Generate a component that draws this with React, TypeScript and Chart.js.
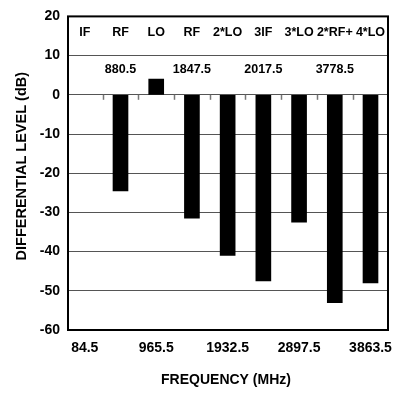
import React, { useEffect, useRef } from "react";
import { Chart, registerables } from "chart.js";

Chart.register(...registerables);

const categories = ["IF", "RF", "LO", "RF", "2*LO", "3IF", "3*LO", "2*RF+", "4*LO"];
const levels: (number | null)[] = [null, -24.5, 4, -31.5, -41, -47.5, -32.5, -53, -48];
const subLabels: (string | null)[] = [null, "880.5", null, "1847.5", null, "2017.5", null, "3778.5", null];
const freqTicks = [0, 2, 4, 6, 8];
const freqLabels = ["84.5", "965.5", "1932.5", "2897.5", "3863.5"];
const yTitle = "DIFFERENTIAL LEVEL (dB)";
const xTitle = "FREQUENCY (MHz)";

const FONT = "'Liberation Sans', Arial, sans-serif";

const annotate = {
  id: "annotate",
  afterDatasetsDraw(chart: any) {
    const { ctx, chartArea, scales } = chart;
    const xs = scales.x;
    const ys = scales.y;
    const y0 = ys.getPixelForValue(0);
    ctx.save();
    // small ticks on zero line between categories
    ctx.strokeStyle = "#777";
    ctx.lineWidth = 1.5;
    for (let k = 0; k < categories.length - 1; k++) {
      const px = Math.round(xs.getPixelForValue(k + 0.5)) + 0.5;
      ctx.beginPath();
      ctx.moveTo(px, y0);
      ctx.lineTo(px, y0 + 5);
      ctx.stroke();
    }
    // category labels
    ctx.fillStyle = "#000";
    ctx.textAlign = "center";
    ctx.textBaseline = "alphabetic";
    ctx.font = `bold 12.5px ${FONT}`;
    categories.forEach((c, k) => {
      ctx.fillText(c, xs.getPixelForValue(k), ys.getPixelForValue(15.1));
    });
    subLabels.forEach((s, k) => {
      if (s) ctx.fillText(s, xs.getPixelForValue(k), ys.getPixelForValue(5.6));
    });
    // plot border
    ctx.strokeStyle = "#000";
    ctx.lineWidth = 2;
    ctx.strokeRect(chartArea.left, chartArea.top, chartArea.right - chartArea.left, chartArea.bottom - chartArea.top);
    // axis titles
    ctx.font = `bold 14.5px ${FONT}`;
    ctx.textBaseline = "middle";
    ctx.save();
    ctx.translate(22, (chartArea.top + chartArea.bottom) / 2 - 7);
    ctx.rotate(-Math.PI / 2);
    ctx.fillText(yTitle, 0, 0);
    ctx.restore();
    ctx.font = `bold 14px ${FONT}`;
    ctx.textBaseline = "alphabetic";
    ctx.fillText(xTitle, (chartArea.left + chartArea.right) / 2 - 2, 383.5);
    ctx.restore();
  },
};

export default function App() {
  const ref = useRef<HTMLCanvasElement>(null);
  useEffect(() => {
    document.body.style.margin = "0";
    const data = levels
      .map((v, k) => (v === null ? null : { x: k, y: v }))
      .filter((d) => d !== null);
    const chart = new Chart(ref.current as HTMLCanvasElement, {
      type: "bar",
      data: {
        datasets: [
          {
            data: data as any,
            backgroundColor: "#000",
            borderWidth: 0,
            barThickness: 15,
          },
        ],
      },
      options: {
        responsive: false,
        animation: false,
        devicePixelRatio: 1,
        layout: { padding: { left: 0, right: 16, top: 11, bottom: 0 } },
        plugins: { legend: { display: false }, tooltip: { enabled: false } },
        scales: {
          x: {
            type: "linear",
            offset: false,
            min: -0.47,
            max: 8.49,
            grid: { display: false, drawTicks: false, offset: false },
            border: { display: false },
            afterBuildTicks: (scale: any) => {
              scale.ticks = freqTicks.map((v) => ({ value: v }));
            },
            ticks: {
              autoSkip: false,
              maxRotation: 0,
              padding: 10,
              color: "#000",
              font: { family: FONT, size: 14, weight: "bold" },
              callback: (v: any) => freqLabels[freqTicks.indexOf(Number(v))] ?? "",
            },
            afterFit: (scale: any) => {
              scale.height = 63;
            },
          },
          y: {
            min: -60,
            max: 20,
            grid: { color: "#555", lineWidth: 1, drawTicks: false },
            border: { display: false },
            ticks: {
              stepSize: 10,
              padding: 8,
              color: "#000",
              font: { family: FONT, size: 14, weight: "bold" },
            },
            afterFit: (scale: any) => {
              scale.width = 68;
            },
          },
        },
      },
      plugins: [annotate],
    });
    return () => chart.destroy();
  }, []);
  return <canvas ref={ref} width={404} height={393} style={{ display: "block" }} />;
}
